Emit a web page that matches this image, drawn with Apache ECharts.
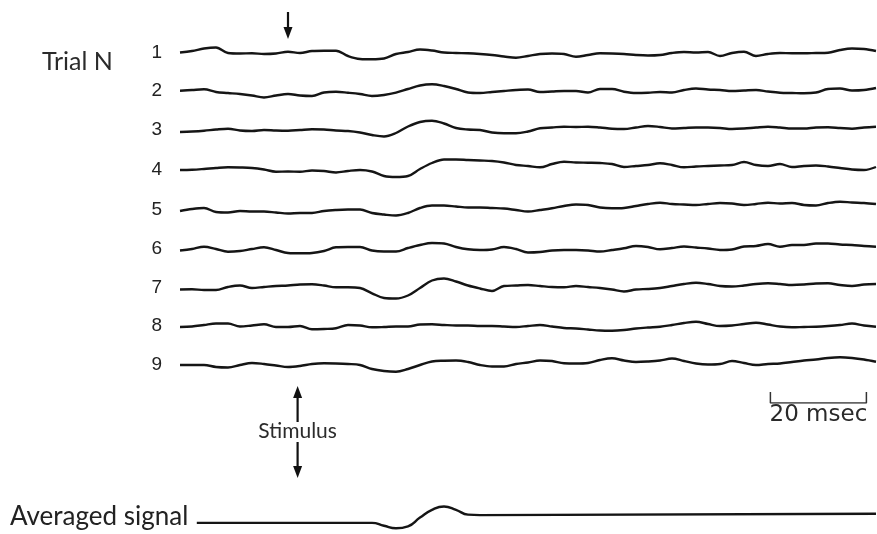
<!DOCTYPE html>
<html>
<head>
<meta charset="utf-8">
<script src="https://cdn.jsdelivr.net/npm/echarts@6/dist/echarts.min.js"></script>
<style>
  html, body { margin: 0; padding: 0; background: #fff; }
  #chart { width: 877px; height: 534px; }
</style>
</head>
<body>
<div id="chart"></div>
<script>
// sweep time, msec
const timeMs = [0, 2.5, 5, 7.5, 10, 12.5, 15, 17.5, 20, 22.5, 25, 27.5, 30, 32.5, 35, 37.5, 40, 42.5, 45, 47.5,
  50, 52.5, 55, 57.5, 60, 62.5, 65, 67.5, 70, 72.5, 75, 77.5, 80, 82.5, 85, 87.5, 90, 92.5, 95, 97.5,
  100, 102.5, 105, 107.5, 110, 112.5, 115, 117.5, 120, 122.5, 125, 127.5, 130, 132.5, 135, 137.5, 140, 142.5, 145];

// single trial recordings (arbitrary units, up = positive)
const trial1 = [0.5, 2, 4.5, 5.5, 0, -0.5, -0.3, -1, -0.5, 1.3, 0, 2, 2.3, 2.3, -3, -6, -6.3, -5.5, -1, 1,
  3.5, 2.5, 0.5, 0, -0.3, -1, -2, -3.5, -4.7, -3, -1, -0.5, -1, -3.7, -2, -0.3, -0.5, -1, -2, -2.5,
  -2, 0, 1, 0.5, 1, -3, 0, 1.3, -3, -1, 0, -0.3, -0.3, 0, 0.3, 3, 4.5, 4, 2];
const trial2 = [0.3, 1, 1.7, -1, -2, -3, -4.5, -6.5, -4.5, -3, -4.5, -5, -1.5, -0.7, -1.7, -3, -5, -4, -1.7, 2,
  5.5, 6.7, 5, 2, -1.5, -2, -1, 0, 1, 1.5, -1, -0.5, 0, 0, -1.5, 2, 2, -0.7, -2, -1.7,
  -1, -1.5, 1, 2.5, 1.5, 1, 0, 0.5, 1, -0.5, -1.7, -2, -2.3, -1.5, 2, 2.5, 0.5, 1, 3];
const trial3 = [-2, -1.5, -0.7, 0.5, 1.3, -0.5, -1, 0, -0.5, -0.7, 0, 0.7, 0.5, -0.5, -1, -2.5, -5, -6.5, -3, 3.5,
  8, 9.3, 6.5, 2, 0.5, 0, -2.5, -3.3, -3.3, -1.5, 1.7, 2.5, 3.3, 3, 3.3, 2.5, 1.3, 1, 2.5, 4,
  3, 1.5, 2, 2.5, 2.5, 2, 1, 1.5, 2.5, 3.3, 2.5, 1.5, 1.5, 2.5, 2.7, 2, 1.3, 2.5, 3.3];
const trial4 = [0, 0.2, 1, 2, 2.7, 2.5, 2, 0.5, -1.7, -1.5, -1.7, -0.5, -1, -2.5, -1, 0, -1.5, -6, -7, -6,
  1, 7, 10.5, 10.5, 10, 9.5, 9, 7.5, 5, 4, 2.7, 6, 8.3, 7.5, 7.3, 7, 6, 3, 4, 5,
  6.7, 5, 2.7, 3.5, 4, 4.5, 5, 8, 5, 4, 6, 3, 4, 4.5, 3.5, 2, 0.5, 0, 3];
const trial5 = [-1, 1, 2, -2, -2.5, -1, -1.5, -1.5, -2.5, -3.5, -3, -3, -1, 0, 0.5, 0.5, -3, -4.5, -5.5, -3,
  2, 4.5, 4.5, 3.5, 2.5, 2.5, 2, 1.5, 0, -1.5, 0, 1.7, 4, 5.5, 5, 2.5, 1.7, 2, 4, 6,
  7.3, 6, 5.5, 5, 6, 7, 6.5, 5, 6, 7.3, 6.5, 7, 5, 4.5, 7, 8.3, 7.5, 7, 6];
const trial6 = [-1.5, 0, 2.3, 0, -2.7, -2, 0, 1.7, -1, -4, -4.3, -4, -2, 1.7, 2, 2, -1.5, -2.5, -2.5, 1,
  4, 6, 5.5, 2, -0.3, -1, -0.5, 2, 0, -3.5, -3, -1.5, -1, -1, -1.5, -2.5, -1, 0.7, 3, 2,
  -0.3, 1, 2.5, 1.5, 0.5, -1, -0.5, 2.5, 3, 5, 2.3, 4, 4, 5.5, 5.5, 4.5, 4, 3, 2.3];
const trial7 = [-1.5, -1.3, -2, -2, 1, 2.5, 0, 1, 2, 2.5, 3.5, 3.7, 2.5, 0.7, 0.7, 0, -5.3, -10, -10.5, -7.5,
  0, 7.5, 9.5, 6.5, 2.5, -0.5, -3, 2, 2.5, 3, 2, 1, 0.7, 2, 1, 0, -1.5, -3.5, -1.5, -1,
  0, 2, 4, 5.3, 4, 2, 1.5, 2.5, 4, 4.7, 4, 3, 3.5, 4.5, 4.7, 3, 2, 3.5, 4];
const trial8 = [-1, -0.5, 1, 2.5, 2.5, -0.5, 0.5, 1.7, -1, -1, 0, -3.3, -3, -2.3, 1, 0.5, -1.3, -1, -0.5, -0.5,
  1.5, 1.7, 1, 0.5, 0.5, 0, 0, -0.5, -1, 0, 1, -0.5, -2, -2.5, -3.5, -4.5, -4.7, -4, -2.5, -1.5,
  -0.7, 1, 3, 4.3, 2, 0, 0.5, 2, 3.3, 1.5, -0.5, -1.3, -1, -0.7, 0, 1, 2.5, 0.5, -0.7];
const trial9 = [0, 0, 0, -2, -2.5, 0, 2, 1, -0.5, -2, -1, 1, 1.7, 1.5, 1, 0, -4, -6, -6.7, -4,
  0, 3.5, 4.3, 4.5, 3, 0, -1.5, -1.5, 1, 2.5, 4.5, 4, 1.7, 1.5, 2, 5, 6.7, 4.5, 3, 3.5,
  4.5, 6.5, 4, 1.5, 0.5, 1, 4, 2, 0, 1, 1.5, 3, 4.5, 5.5, 7, 7.7, 7, 5.5, 3.3];
const trials = [trial1, trial2, trial3, trial4, trial5, trial6, trial7, trial8, trial9];
const trialLabels = ['1', '2', '3', '4', '5', '6', '7', '8', '9'];

// averaged response
const averagedTime = [3.5, 40, 42.5, 45, 47.5, 50, 52.5, 55, 57.5, 60, 62.5, 145];
const averagedSignal = [-3.5, -3.5, -6.5, -9, -7, 2, 10, 13.5, 10, 5, 4.5, 6];

// annotations (msec)
const stimulusTopMs = 22.5;
const stimulusBottomMs = 24.5;
const scaleBarStartMs = 123;
const scaleBarMs = 20;

// layout (px)
const baselines = [53, 91, 130, 170, 210, 249, 288, 326, 365];
const avgBaseline = 520;
const halfH = 15;
const ink = '#151515';

const grids = [];
const xAxes = [];
const yAxes = [];
const series = [];

function addTrace(top, height, ymin, ymax, name, data, smooth) {
  const idx = grids.length;
  grids.push({ left: 180, right: 1, top, height });
  xAxes.push({ gridIndex: idx, type: 'value', min: 0, max: 145, show: false });
  yAxes.push({
    gridIndex: idx, type: 'value', min: ymin, max: ymax,
    axisLine: { show: false }, axisTick: { show: false },
    axisLabel: { show: false }, splitLine: { show: false },
    name, nameLocation: 'middle', nameRotate: 0, nameGap: 18,
    nameTextStyle: { fontFamily: 'Liberation Sans', fontSize: 19, color: '#222', padding: [2, 0, 0, 0] },
  });
  series.push({
    type: 'line', xAxisIndex: idx, yAxisIndex: idx, data,
    showSymbol: false, smooth, silent: true, clip: false,
    lineStyle: { color: ink, width: 2.4 },
  });
}

trials.forEach((vals, i) => {
  addTrace(baselines[i] - halfH, halfH * 2, -halfH, halfH, trialLabels[i],
    timeMs.map((t, k) => [t, vals[k]]), 0.35);
});
addTrace(avgBaseline - halfH, halfH * 2, -halfH, halfH, '',
  averagedTime.map((t, k) => [t, averagedSignal[k]]), 0.5);

// scale bar grid: 0 = bar, 1 = tick top
const barIdx = grids.length;
grids.push({ left: 180, right: 1, top: 392, height: 11 });
xAxes.push({ gridIndex: barIdx, type: 'value', min: 0, max: 145, show: false });
yAxes.push({ gridIndex: barIdx, type: 'value', min: 0, max: 1, show: false });
series.push({
  type: 'line', xAxisIndex: barIdx, yAxisIndex: barIdx, showSymbol: false, silent: true,
  data: [[scaleBarStartMs, 1], [scaleBarStartMs, 0], [scaleBarStartMs + scaleBarMs, 0], [scaleBarStartMs + scaleBarMs, 1]],
  lineStyle: { color: '#333', width: 1.5 },
});

const chart = echarts.init(document.getElementById('chart'));
chart.setOption({
  animation: false,
  backgroundColor: '#fff',
  grid: grids,
  xAxis: xAxes,
  yAxis: yAxes,
  series,
});

function arrow(x, y1, y2, up) {
  // shaft + filled head, tip at y1 when up, at y2 when down
  const tip = up ? y1 : y2;
  const base = up ? y1 + 12 : y2 - 12;
  return [
    { type: 'line', shape: { x1: x, y1: up ? base : y1, x2: x, y2: up ? y2 : base }, style: { stroke: '#111', lineWidth: 2.2 } },
    { type: 'polygon', shape: { points: [[x, tip], [x - 4.5, base], [x + 4.5, base]] }, style: { fill: '#111' } },
  ];
}

const xTop = chart.convertToPixel({ gridIndex: 0 }, [stimulusTopMs, 0])[0];
const xBot = chart.convertToPixel({ gridIndex: 0 }, [stimulusBottomMs, 0])[0];
const barL = chart.convertToPixel({ gridIndex: barIdx }, [scaleBarStartMs, 0])[0];
const barR = chart.convertToPixel({ gridIndex: barIdx }, [scaleBarStartMs + scaleBarMs, 0])[0];
const sans = 'Lato, "Open Sans", sans-serif';

chart.setOption({
  graphic: [
    ...arrow(xTop, 12, 39, false),
    ...arrow(xBot, 386, 422, true),
    ...arrow(xBot, 442, 478, false),
    { type: 'text', x: 42, y: 62, style: { text: 'Trial N', font: '25px ' + sans, fill: '#2b2b2b', textVerticalAlign: 'middle' } },
    { type: 'text', x: xBot, y: 431, style: { text: 'Stimulus', font: '21px ' + sans, fill: '#2b2b2b', textAlign: 'center', textVerticalAlign: 'middle' } },
    { type: 'text', x: 10, y: 517, style: { text: 'Averaged signal', font: '26px ' + sans, fill: '#222', textVerticalAlign: 'middle' } },
    { type: 'text', x: (barL + barR) / 2, y: 415, style: { text: '20 msec', font: '23px "DejaVu Sans", sans-serif', fill: '#2a2a2a', textAlign: 'center', textVerticalAlign: 'middle' } },
  ],
});
</script>
</body>
</html>
